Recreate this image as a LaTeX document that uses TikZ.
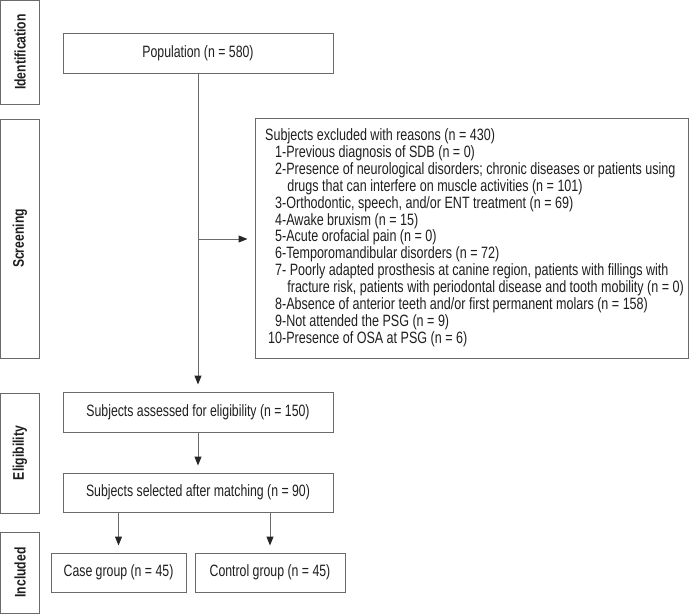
\documentclass[tikz,border=0pt]{standalone}
\usepackage{fontspec}
\setmainfont{Liberation Sans}[FakeStretch=0.75]
\newfontfamily\exclfont{Liberation Sans}[FakeStretch=0.765]
\newfontfamily\labfont{Liberation Sans}[FakeStretch=0.79]
\usetikzlibrary{arrows.meta}
\definecolor{linec}{HTML}{6A6A6A}
\definecolor{textc}{HTML}{1E1E1E}
\begin{document}
\begin{tikzpicture}[x=1pt,y=-1pt,
  box/.style={draw=linec, line width=1pt, rectangle, inner sep=0pt, text=textc,
              font=\fontsize{16.4}{17}\selectfont},
  lab/.style={box, font=\labfont\fontsize{15.4}{16}\selectfont\bfseries},
  arr/.style={draw=linec, line width=1pt,
              -{Triangle[length=9pt,width=7pt,color=black!85]}, shorten >=7pt}]
\useasboundingbox (0,0) rectangle (690,614);
% stage labels
\node[lab, minimum width=39pt, minimum height=104pt] (idlab) at (20,52) {\rotatebox{90}{Identification}};
\node[lab, minimum width=39pt, minimum height=239pt] (scrlab) at (20,238.5) {\rotatebox{90}{Screening}};
\node[lab, minimum width=39pt, minimum height=120pt] (elilab) at (20,453) {\rotatebox{90}{Eligibility}};
\node[lab, minimum width=39pt, minimum height=81pt] (inclab) at (20,572.5) {\rotatebox{90}{Included}};
% flow boxes
\node[box, minimum width=270pt, minimum height=40pt] (pop) at (198,53) {Population (n = 580)};
\node[box, minimum width=433pt, minimum height=240pt] (excl) at (471.5,238) {};
\node[anchor=west, inner sep=0pt, text=textc, font=\exclfont\fontsize{16.4}{16.7}\selectfont] (excltext) at (268,238.5) {%
\begin{tabular}{@{}r@{}l@{}}
\multicolumn{2}{@{\hspace{-3pt}}l@{}}{Subjects excluded with reasons (n = 430)}\\
1-&Previous diagnosis of SDB (n = 0)\\
2-&Presence of neurological disorders; chronic diseases or patients using\\
&\hspace{1pt}drugs that can interfere on muscle activities (n = 101)\\
3-&Orthodontic, speech, and/or ENT treatment (n = 69)\\
4-&Awake bruxism (n = 15)\\
5-&Acute orofacial pain (n = 0)\\
6-&Temporomandibular disorders (n = 72)\\
7-&\ Poorly adapted prosthesis at canine region, patients with fillings with\\
&\hspace{1pt}fracture risk, patients with periodontal disease and tooth mobility (n = 0)\\
8-&Absence of anterior teeth and/or first permanent molars (n = 158)\\
9-&Not attended the PSG (n = 9)\\
10-&Presence of OSA at PSG (n = 6)
\end{tabular}};
\node[box, minimum width=270pt, minimum height=40pt] (assess) at (198,412) {Subjects assessed for eligibility (n = 150)};
\node[box, minimum width=270pt, minimum height=39pt] (match) at (198,492.5) {Subjects selected after matching (n = 90)};
\node[box, minimum width=135pt, minimum height=39pt] (case) at (118.5,572.5) {Case group (n = 45)};
\node[box, minimum width=150pt, minimum height=39pt] (ctrl) at (270,572.5) {Control group (n = 45)};
% connectors
\coordinate (br) at (198,239);
\draw[arr] (pop.south) -- (assess.north);
\draw[arr] (br) -- (br -| excl.west);
\draw[arr] (assess.south) -- (match.north);
\draw[arr] (match.south -| case.north) -- (case.north);
\draw[arr] (match.south -| ctrl.north) -- (ctrl.north);
\end{tikzpicture}
\end{document}
